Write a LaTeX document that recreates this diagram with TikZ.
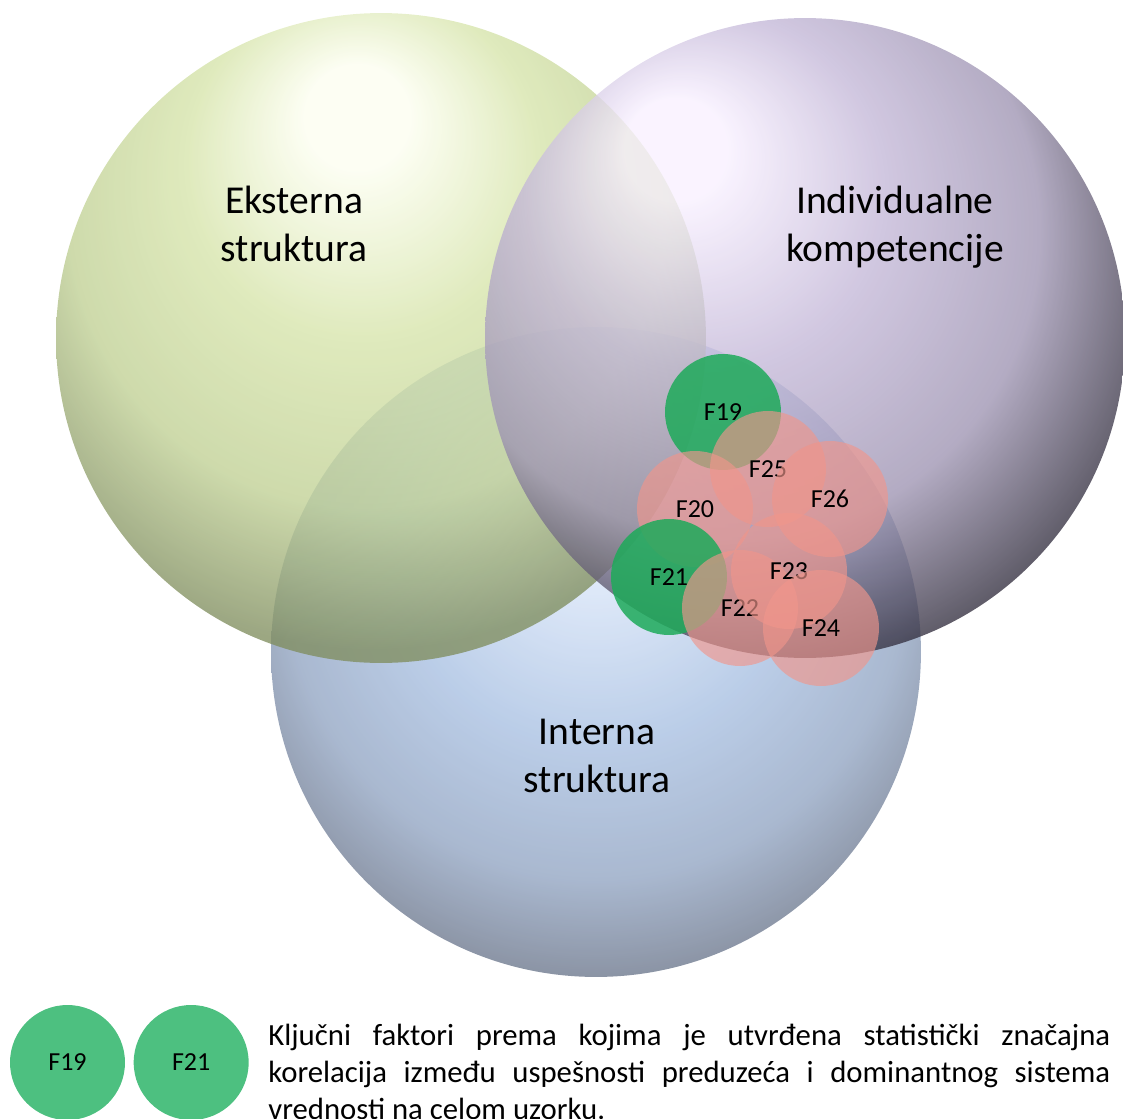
\documentclass[tikz,border=0pt]{standalone}
\usepackage{fontspec}
\setmainfont{Carlito}
\usepackage{tikz}
\usetikzlibrary{positioning}

\definecolor{eksHi}{RGB}{252,254,240}
\definecolor{eksMid}{RGB}{214,228,170}
\definecolor{eksMid2}{RGB}{192,208,148}
\definecolor{eksDark}{RGB}{128,142,95}
\definecolor{eksRim}{RGB}{205,218,165}
\definecolor{indHi}{RGB}{248,240,255}
\definecolor{indMid}{RGB}{196,184,216}
\definecolor{indMid2}{RGB}{158,148,178}
\definecolor{indDark}{RGB}{50,46,62}
\definecolor{indRim}{RGB}{100,95,115}
\definecolor{intHi}{RGB}{215,228,248}
\definecolor{intMid}{RGB}{168,192,226}
\definecolor{intMid2}{RGB}{145,164,194}
\definecolor{intDark}{RGB}{100,110,130}
\definecolor{intRim}{RGB}{200,220,250}
\definecolor{zelena}{RGB}{30,170,90}
\definecolor{zelenaL}{RGB}{77,192,128}
\definecolor{roza}{RGB}{240,150,140}

% the circle edge lies at 35.4bp of the 100bp shading square
\pgfdeclareradialshading{eksball}{\pgfpoint{-2bp}{18.5bp}}{%
color(0bp)=(eksHi); color(4bp)=(eksHi); color(13.5bp)=(eksMid);
color(23bp)=(eksMid2); color(31bp)=(eksDark); color(33.8bp)=(eksDark);
color(35.4bp)=(eksRim); color(50bp)=(eksRim)}
\pgfdeclareradialshading{indball}{\pgfpoint{-11bp}{16bp}}{%
color(0bp)=(indHi); color(4bp)=(indHi); color(14bp)=(indMid);
color(24bp)=(indMid2); color(32bp)=(indDark); color(34.2bp)=(indDark);
color(35.4bp)=(indRim); color(50bp)=(indRim)}
\pgfdeclareradialshading{intball}{\pgfpoint{0bp}{12.5bp}}{%
color(0bp)=(intHi); color(5.5bp)=(intHi); color(15.5bp)=(intMid);
color(24bp)=(intMid2); color(31bp)=(intDark); color(33.2bp)=(intDark);
color(35.4bp)=(intRim); color(50bp)=(intRim)}

\begin{document}
\begin{tikzpicture}[
x = 0.02cm, y = 0.02cm,
krug/.style={circle, inner sep = 0, minimum size = 13cm, fill opacity = 0.78},
naslov/.style={align = center, inner sep = 0, font = \fontsize{22.5}{27.3}\selectfont},
faktor/.style={circle, inner sep = 0, minimum size = 2.32cm, text opacity = 1,
font = \fontsize{14.8}{17.8}\selectfont},
zeleni/.style={faktor, fill = zelena, fill opacity = 0.85},
rozi/.style={faktor, fill = roza, fill opacity = 0.65},
legenda/.style={faktor, fill = zelenaL, minimum size = 2.3cm},
opis/.style={anchor = north west, inner sep = 0, text width = 16.84cm, align = justify,
font = \fontsize{17.5}{21.1}\selectfont}]

\useasboundingbox (0,0) rectangle (1123,-1119);

\node[krug, shading = intball] (int) at (596,-652) {};
\node[krug, shading = eksball] (eks) at (381,-338) {};
\node[krug, shading = indball, minimum size = 12.8cm] (ind) at (805,-338) {};

\node[naslov] (teks) at (294,-224) {Eksterna\\struktura};
\node[naslov] (tind) at (895,-227) {Individualne\\kompetencije};
\node[naslov] (tint) at (597,-756) {Interna\\struktura};

\node[zeleni] (f19) at (723,-412) {F19};
\node[rozi] (f20) at (695,-509) {F20};
\node[zeleni] (f21) at (669,-577) {F21};
\node[rozi] (f22) at (740,-608) {F22};
\node[rozi] (f23) at (789,-571) {F23};
\node[rozi] (f24) at (821,-628) {F24};
\node[rozi] (f25) at (768,-469) {F25};
\node[rozi] (f26) at (830,-499) {F26};

\node[legenda] (l19) at (67.5,-1062.5) {F19};
\node[legenda, right = 0.16cm of l19] (l21) {F21};
\node[opis] (opis) at (268,-1024) {Ključni faktori prema kojima je utvrđena statistički značajna\linebreak
korelacija između uspešnosti preduzeća i dominantnog sistema\linebreak
vrednosti na celom uzorku.};
\end{tikzpicture}
\end{document}
